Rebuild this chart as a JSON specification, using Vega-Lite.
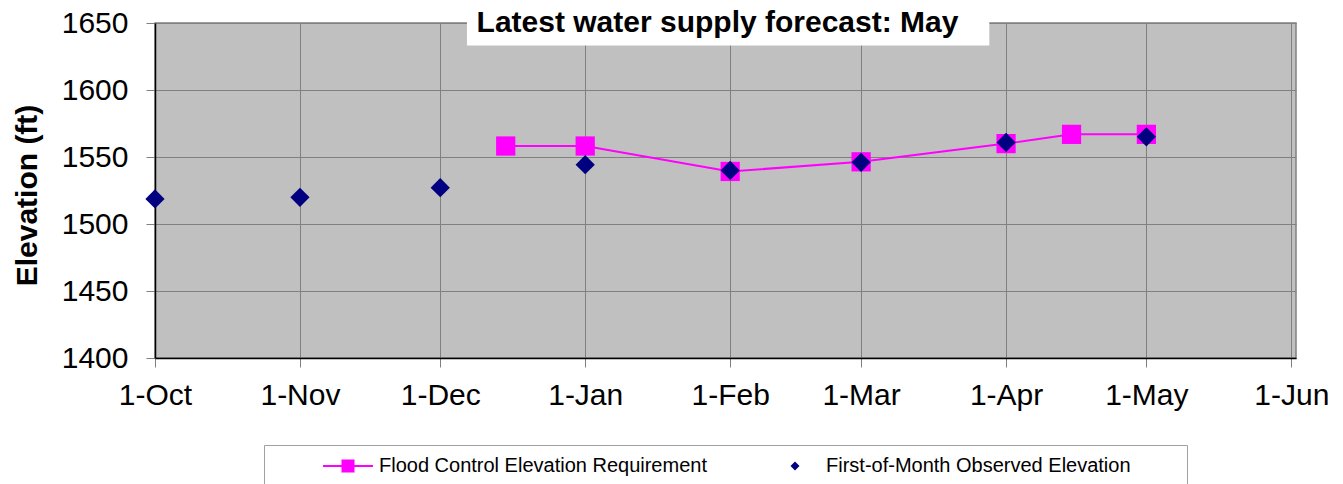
{
  "$schema": "https://vega.github.io/schema/vega-lite/v6.json",
  "width": 1141,
  "height": 335,
  "autosize": {"type": "none"},
  "padding": {"left": 155, "top": 23, "right": 47, "bottom": 126},
  "background": "white",
  "config": {
    "font": "Liberation Sans",
    "view": {"fill": "#C0C0C0", "stroke": "#808080", "strokeWidth": 1.5}
  },
  "title": {
    "text": "Latest water supply forecast: May",
    "frame": "group",
    "anchor": "middle",
    "orient": "top",
    "baseline": "alphabetic",
    "offset": -63,
    "dx": -8,
    "fontSize": 30,
    "font": "Liberation Sans",
    "fontWeight": "bold",
    "color": "black"
  },
  "data": {
    "values": [
      {"date": "2006-12-15T00:00", "elevation": 1558.2, "series": "Flood Control Elevation Requirement"},
      {"date": "2007-01-01T00:00", "elevation": 1558.2, "series": "Flood Control Elevation Requirement"},
      {"date": "2007-02-01T00:00", "elevation": 1539.2, "series": "Flood Control Elevation Requirement"},
      {"date": "2007-03-01T00:00", "elevation": 1546.4, "series": "Flood Control Elevation Requirement"},
      {"date": "2007-04-01T00:00", "elevation": 1560.0, "series": "Flood Control Elevation Requirement"},
      {"date": "2007-04-15T00:00", "elevation": 1566.9, "series": "Flood Control Elevation Requirement"},
      {"date": "2007-05-01T00:00", "elevation": 1566.9, "series": "Flood Control Elevation Requirement"},
      {"date": "2006-10-01T00:00", "elevation": 1518.7, "series": "First-of-Month Observed Elevation"},
      {"date": "2006-11-01T00:00", "elevation": 1519.9, "series": "First-of-Month Observed Elevation"},
      {"date": "2006-12-01T00:00", "elevation": 1527.1, "series": "First-of-Month Observed Elevation"},
      {"date": "2007-01-01T00:00", "elevation": 1544.3, "series": "First-of-Month Observed Elevation"},
      {"date": "2007-02-01T00:00", "elevation": 1540.0, "series": "First-of-Month Observed Elevation"},
      {"date": "2007-03-01T00:00", "elevation": 1546.0, "series": "First-of-Month Observed Elevation"},
      {"date": "2007-04-01T00:00", "elevation": 1560.9, "series": "First-of-Month Observed Elevation"},
      {"date": "2007-05-01T00:00", "elevation": 1565.1, "series": "First-of-Month Observed Elevation"}
    ]
  },
  "layer": [
    {
      "transform": [{"filter": "datum.series === 'Flood Control Elevation Requirement'"}],
      "mark": {"type": "line", "color": "#FF00FF", "strokeWidth": 2},
      "encoding": {
        "x": {
          "field": "date",
          "type": "temporal",
          "scale": {"domain": [{"year": 2006, "month": 10, "date": 1}, {"year": 2007, "month": 6, "date": 2}]},
          "axis": {
            "title": null,
            "format": "%-d-%b",
            "tickCount": {"interval": "month", "step": 1},
            "grid": true,
            "gridColor": "#808080",
            "gridWidth": 1,
            "domainColor": "black",
            "domainWidth": 1.5,
            "tickColor": "#808080",
            "tickSize": 9,
            "labelFontSize": 30,
            "labelColor": "black",
            "labelPadding": 13,
            "labelFlush": false,
            "labelOverlap": false
          }
        },
        "y": {
          "field": "elevation",
          "type": "quantitative",
          "scale": {"domain": [1400, 1650], "nice": false, "zero": false},
          "axis": {
            "title": "Elevation (ft)",
            "values": [1400, 1450, 1500, 1550, 1600, 1650],
            "format": "d",
            "grid": true,
            "gridColor": "#808080",
            "gridWidth": 1,
            "domainColor": "black",
            "domainWidth": 1.5,
            "tickColor": "#808080",
            "tickSize": 9,
            "labelFontSize": 30,
            "labelColor": "black",
            "labelPadding": 18,
            "titleFontSize": 30,
            "titleFontWeight": "bold",
            "titleColor": "black",
            "titlePadding": 19,
            "titleY": 172
          }
        }
      }
    },
    {
      "data": {"values": [{}]},
      "mark": {"type": "rect", "fill": "white", "clip": false},
      "encoding": {
        "x": {"datum": {"year": 2006, "month": 12, "date": 6, "hours": 17}, "type": "temporal"},
        "x2": {"datum": {"year": 2007, "month": 3, "date": 28, "hours": 10}},
        "y": {"datum": 1633.3, "type": "quantitative"},
        "y2": {"datum": 1668}
      }
    },
    {
      "transform": [{"filter": "datum.series === 'Flood Control Elevation Requirement'"}],
      "mark": {"type": "point", "shape": "square", "filled": true, "size": 370, "opacity": 1, "color": "#FF00FF"},
      "encoding": {
        "x": {"field": "date", "type": "temporal"},
        "y": {"field": "elevation", "type": "quantitative"}
      }
    },
    {
      "transform": [{"filter": "datum.series === 'First-of-Month Observed Elevation'"}],
      "mark": {"type": "point", "shape": "diamond", "filled": true, "size": 370, "opacity": 1, "color": "#000080"},
      "encoding": {
        "x": {"field": "date", "type": "temporal"},
        "y": {"field": "elevation", "type": "quantitative"}
      }
    },
    {
      "mark": {"type": "point", "filled": true, "opacity": 0},
      "encoding": {
        "x": {"field": "date", "type": "temporal"},
        "y": {"field": "elevation", "type": "quantitative"},
        "color": {
          "field": "series",
          "type": "nominal",
          "scale": {
            "domain": ["Flood Control Elevation Requirement", "First-of-Month Observed Elevation"],
            "range": ["#FF00FF", "#000080"]
          },
          "legend": {
            "orient": "none",
            "legendX": 109,
            "legendY": 422,
            "direction": "horizontal",
            "columns": 2,
            "title": null,
            "padding": 11,
            "strokeColor": "#A0A0A0",
            "fillColor": "white",
            "labelFontSize": 20,
            "labelColor": "black",
            "symbolOffset": 48,
            "labelOffset": 6,
            "labelLimit": 1000,
            "columnPadding": 15,
            "symbolSize": 2500,
            "symbolStrokeWidth": 0,
            "symbolOpacity": 1,
            "clipHeight": 20,
            "labelExpr": "datum.value === 'First-of-Month Observed Elevation' ? datum.label + '\u2800\u2800\u2800' : datum.label"
          }
        },
        "shape": {
          "field": "series",
          "type": "nominal",
          "scale": {
            "domain": ["Flood Control Elevation Requirement", "First-of-Month Observed Elevation"],
            "range": ["M-1,-0.04H1V0.04H-1ZM-0.26,-0.26H0.26V0.26H-0.26Z", "M0,-0.18L0.18,0L0,0.18L-0.18,0Z"]
          },
          "legend": {
            "orient": "none",
            "legendX": 109,
            "legendY": 422,
            "direction": "horizontal",
            "columns": 2,
            "title": null,
            "padding": 11,
            "strokeColor": "#A0A0A0",
            "fillColor": "white",
            "labelFontSize": 20,
            "labelColor": "black",
            "symbolOffset": 48,
            "labelOffset": 6,
            "labelLimit": 1000,
            "columnPadding": 15,
            "symbolSize": 2500,
            "symbolStrokeWidth": 0,
            "symbolOpacity": 1,
            "clipHeight": 20,
            "labelExpr": "datum.value === 'First-of-Month Observed Elevation' ? datum.label + '\u2800\u2800\u2800' : datum.label"
          }
        }
      }
    }
  ]
}
